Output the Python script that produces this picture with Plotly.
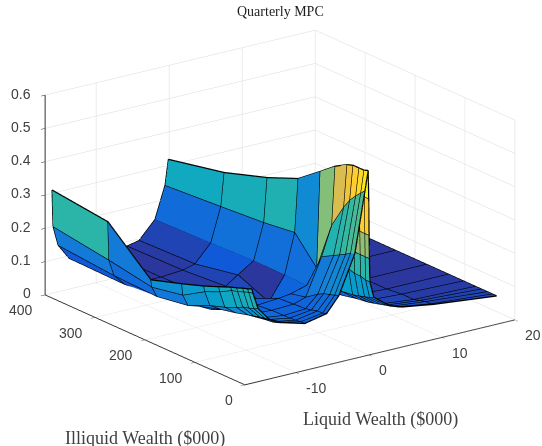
import plotly.graph_objects as go

liquid = [-16.04,-15.9,-15.2,-13.7,-11.9,-8.8,-5.8,-4.12,-1.93,-0.55,-0.1,-0.03,0.02,0.07,0.12,0.67,2.9,4.6,9.0,17.5]
illiquid = [0,8,18,30,42,66,96,140,202,288,400]
mpc = [
 [.283,.27,.22,.18,.16,.141,.155,.20,.315,.495,.555,.47,.36,.29,.22,.17,.132,.12,.105,.085],
 [.278,.268,.215,.178,.155,.14,.15,.195,.31,.483,.55,.47,.36,.29,.22,.165,.13,.115,.10,.085],
 [.273,.262,.21,.175,.15,.138,.15,.19,.30,.468,.55,.47,.36,.29,.225,.16,.125,.11,.10,.085],
 [.266,.255,.205,.17,.148,.136,.145,.185,.29,.447,.55,.47,.36,.29,.225,.155,.12,.105,.095,.085],
 [.26,.25,.195,.165,.145,.136,.14,.175,.28,.418,.544,.465,.36,.29,.23,.15,.115,.10,.09,.085],
 [.245,.23,.18,.155,.14,.135,.138,.15,.26,.348,.523,.445,.35,.285,.23,.145,.11,.095,.09,.085],
 [.227,.21,.165,.145,.135,.13,.135,.14,.154,.20,.487,.41,.33,.28,.225,.14,.10,.09,.085,.085],
 [.204,.17,.135,.125,.105,.095,.105,.085,.156,.277,.436,.37,.31,.26,.215,.135,.095,.09,.085,.085],
 [.174,.152,.12,.11,.095,.09,.10,.125,.157,.265,.397,.34,.29,.245,.205,.13,.095,.09,.085,.085],
 [.29,.175,.125,.09,.085,.085,.09,.10,.152,.255,.354,.30,.26,.225,.19,.125,.095,.09,.085,.085],
 [.31,.20,.14,.093,.09,.085,.087,.095,.147,.243,.318,.27,.24,.205,.175,.12,.095,.09,.085,.085],
]
x_ticks = [-10,0,10,20]
y_ticks = [0,100,200,300,400]
z_ticks = [0,.1,.2,.3,.4,.5,.6]
z_labels = ["0","0.1","0.2","0.3","0.4","0.5","0.6"]
parula = [[0,"rgb(53,42,135)"],[.125,"rgb(15,92,221)"],[.25,"rgb(20,129,214)"],[.375,"rgb(6,164,202)"],
          [.5,"rgb(46,183,164)"],[.625,"rgb(135,191,119)"],[.75,"rgb(209,187,89)"],[.875,"rgb(254,200,50)"],[1,"rgb(249,251,14)"]]

nx, ny = len(liquid), len(illiquid)
vx, vy, vz, vi, I, J, K = [], [], [], [], [], [], []
for r in range(ny-1):
    for c in range(nx-1):
        n = len(vx)
        for rr, cc in [(r,c),(r,c+1),(r+1,c+1),(r+1,c)]:
            vx.append(liquid[cc]); vy.append(illiquid[rr]); vz.append(mpc[rr][cc]); vi.append(mpc[r][c])
        I += [n, n]; J += [n+1, n+2]; K += [n+2, n+3]

mesh = go.Mesh3d(x=vx, y=vy, z=vz, i=I, j=J, k=K, intensity=vi,
                 colorscale=parula, cmin=.07, cmax=.52, showscale=False,
                 lighting=dict(ambient=1, diffuse=0, specular=0, roughness=1, fresnel=0),
                 hoverinfo="skip")
lx, ly, lz = [], [], []
for r in range(ny):
    lx += liquid+[None]; ly += [illiquid[r]]*nx+[None]; lz += mpc[r]+[None]
for c in range(nx):
    lx += [liquid[c]]*ny+[None]; ly += illiquid+[None]; lz += [mpc[r][c] for r in range(ny)]+[None]
grid = go.Scatter3d(x=lx, y=ly, z=lz, mode="lines", line=dict(color="black", width=2.5),
                    hoverinfo="skip", showlegend=False)

tick_font = dict(family="Liberation Sans", size=14, color="rgb(64,64,64)")
axis = dict(showbackground=False, gridcolor="rgb(218,218,218)", gridwidth=1, showspikes=False,
            showline=True, linecolor="rgb(50,50,50)", linewidth=2, ticks="outside", ticklen=5,
            tickcolor="rgb(50,50,50)", zeroline=False, title=dict(text=""), showticklabels=False)
tick_notes = []
for v in x_ticks:
    tick_notes.append(dict(x=v, y=0, z=0, text=str(v), showarrow=False, xanchor="left", yanchor="middle",
                           xshift=8, yshift=-16, font=tick_font))
for v in y_ticks:
    tick_notes.append(dict(x=-17, y=v, z=0, text=str(v), showarrow=False, xanchor="right", yanchor="middle",
                           xshift=-10, yshift=-16, font=tick_font))
for v, t in zip(z_ticks, z_labels):
    tick_notes.append(dict(x=-17, y=400, z=v, text=t, showarrow=False, xanchor="right", yanchor="middle",
                           xshift=-12, yshift=1, font=tick_font))

r = 2
eye = dict(x=-.557*r, y=-.762*r, z=.329*r)
fig = go.Figure([mesh, grid])
fig.update_layout(width=542, height=446, margin=dict(l=0, r=0, t=0, b=0), paper_bgcolor="white",
    showlegend=False,
    scene=dict(domain=dict(x=[.033,1], y=[.0845,.9874]),
        xaxis=dict(axis, range=[-17,20], tickvals=x_ticks),
        yaxis=dict(axis, range=[0,400], tickvals=y_ticks),
        zaxis=dict(axis, range=[0,.6], tickvals=z_ticks),
        aspectmode="manual", aspectratio=dict(x=1.66,y=1.68,z=1.05),
        annotations=tick_notes,
        camera=dict(projection=dict(type="orthographic"), eye=eye, up=dict(x=0,y=0,z=1), center=dict(x=0,y=0,z=0))),
    annotations=[
        dict(text="Quarterly MPC", x=280/542, y=1-12/446, xref="paper", yref="paper", showarrow=False, xanchor="center", yanchor="middle",
             font=dict(family="Liberation Serif", size=14, color="rgb(30,30,30)")),
        dict(text="Liquid Wealth ($000)", x=380/542, y=1-419/446, xref="paper", yref="paper", showarrow=False, xanchor="center", yanchor="middle",
             font=dict(family="Liberation Serif", size=18, color="rgb(64,64,64)")),
        dict(text="Illiquid Wealth ($000)", x=145/542, y=1-438/446, xref="paper", yref="paper", showarrow=False, xanchor="center", yanchor="middle",
             font=dict(family="Liberation Serif", size=18, color="rgb(64,64,64)")),
    ])
fig.write_html("out.html", config=dict(displayModeBar=False), post_script="document.body.style.margin='0';")
